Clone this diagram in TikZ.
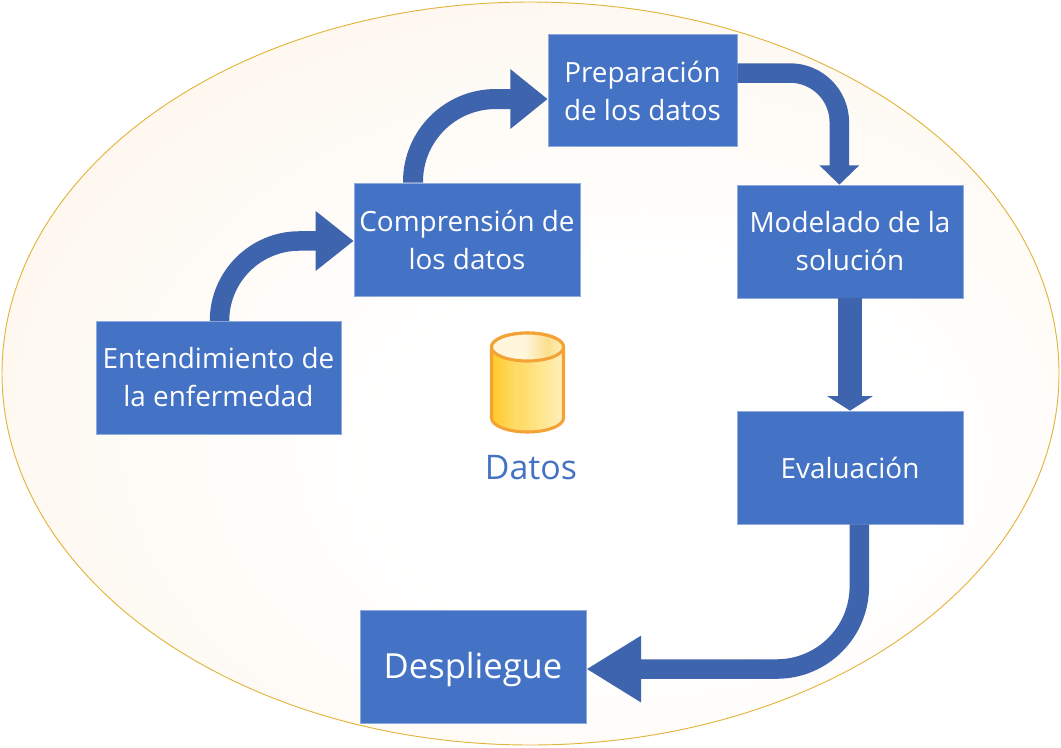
\documentclass[tikz,border=0pt]{standalone}
\usepackage{fontspec}
\setmainfont{Open Sans}
\usetikzlibrary{arrows.meta}
\definecolor{boxblue}{HTML}{4472C4}
\definecolor{arrowblue}{HTML}{3E64AD}
\definecolor{boxedge}{HTML}{8FAADC}
\definecolor{ringgold}{HTML}{E3B43C}
\definecolor{cyledge}{HTML}{F4A236}
\definecolor{halotint}{HTML}{FEF6EC}
\definecolor{cyla}{HTML}{FFC926}
\definecolor{cylb}{HTML}{FFDD6E}
\definecolor{cylc}{HTML}{FFDB66}
\definecolor{cyld}{HTML}{FFF0BC}
\definecolor{cyte}{HTML}{FFF6DC}
\definecolor{cytf}{HTML}{FBDF8E}
\pgfdeclareradialshading{halo}{\pgfpoint{8bp}{-8bp}}{color(0bp)=(white); color(13bp)=(white); color(34bp)=(halotint); color(50bp)=(halotint)}
\pgfdeclarehorizontalshading{cylbody}{100bp}{color(0bp)=(cyla); color(25bp)=(cyla); color(43bp)=(cylb); color(45bp)=(cylc); color(75bp)=(cyld); color(100bp)=(cyld)}
\pgfdeclarehorizontalshading{cyltop}{100bp}{color(0bp)=(cyte); color(25bp)=(cyte); color(48bp)=(cyte); color(64bp)=(cytf); color(75bp)=(cyld); color(100bp)=(cyld)}
\tikzset{
  x=0.75pt,y=-0.75pt,
  stagebox/.style={draw=boxedge,line width=0.5pt,fill=boxblue,text=white,inner sep=0pt,align=center,font=\fontsize{20.9}{28.5}\selectfont},
  flow/.style={draw=arrowblue,line width=#1*0.75pt},
}
\begin{document}
\begin{tikzpicture}
\useasboundingbox (0,0) rectangle (1061,747);
\path[shade,shading=halo] (530.5,373.5) ellipse [x radius=528.5,y radius=371.5];
\draw[ringgold,line width=0.7pt] (530.5,373.5) ellipse [x radius=528.5,y radius=371.5];
\node[stagebox,minimum width=245*.75pt,minimum height=113*.75pt] (a) at (218.5,377.5) {Entendimiento de\\la enfermedad};
\node[stagebox,minimum width=226*.75pt,minimum height=113*.75pt] (b) at (467,239.5) {Comprensión de\\los datos};
\node[stagebox,minimum width=189*.75pt,minimum height=112*.75pt] (c) at (642.5,90.5) {Preparación\\de los datos};
\node[stagebox,minimum width=226*.75pt,minimum height=113*.75pt] (d) at (850,241.5) {Modelado de la\\solución};
\node[stagebox,minimum width=226*.75pt,minimum height=113*.75pt] (e) at (850,467.5) {Evaluación};
\node[stagebox,minimum width=226*.75pt,minimum height=113*.75pt,font=\fontsize{25.9}{29}\selectfont] (f) at (473,666.5) {\rule{0pt}{24.2pt}Despliegue};
\node[text=boxblue,inner sep=0pt,font=\fontsize{25.4}{29}\selectfont] (datos) at (531,468) {Datos};
% arrows
\draw[flow=19.5,rounded corners=60pt,-{Triangle[length=28.5pt,width=43pt]}] ([xshift=.75pt]a.north) |- ([yshift=-1.1pt]b.west);
\draw[flow=20,rounded corners=62pt,-{Triangle[length=28pt,width=43pt]}] ([xshift=-40.5pt]b.north) |- ([yshift=-6.4pt]c.west);
\draw[flow=19.5,rounded corners=37pt,-{Triangle[length=14.5pt,width=29pt]}] ([yshift=13.1pt]c.east) -| ([xshift=-8pt]d.north);
\draw[flow=24,-{Triangle[length=11pt,width=34pt]}] (d.south) -- (e.north);
\draw[flow=19.5,rounded corners=62pt,-{Triangle[length=41pt,width=47pt]}] ([xshift=7pt]e.south) |- ([yshift=-1.9pt]f.east);
% cylinder
\path[shade,shading=cylbody,draw=cyledge,line width=2.3pt] (491.5,347) -- (491.5,418) arc[start angle=180,end angle=0,x radius=36,y radius=14] -- (563.5,347) arc[start angle=360,end angle=180,x radius=36,y radius=14] -- cycle;
\path[shade,shading=cyltop,draw=cyledge,line width=2.3pt] (527.5,347) ellipse[x radius=36,y radius=14];
\end{tikzpicture}
\end{document}
